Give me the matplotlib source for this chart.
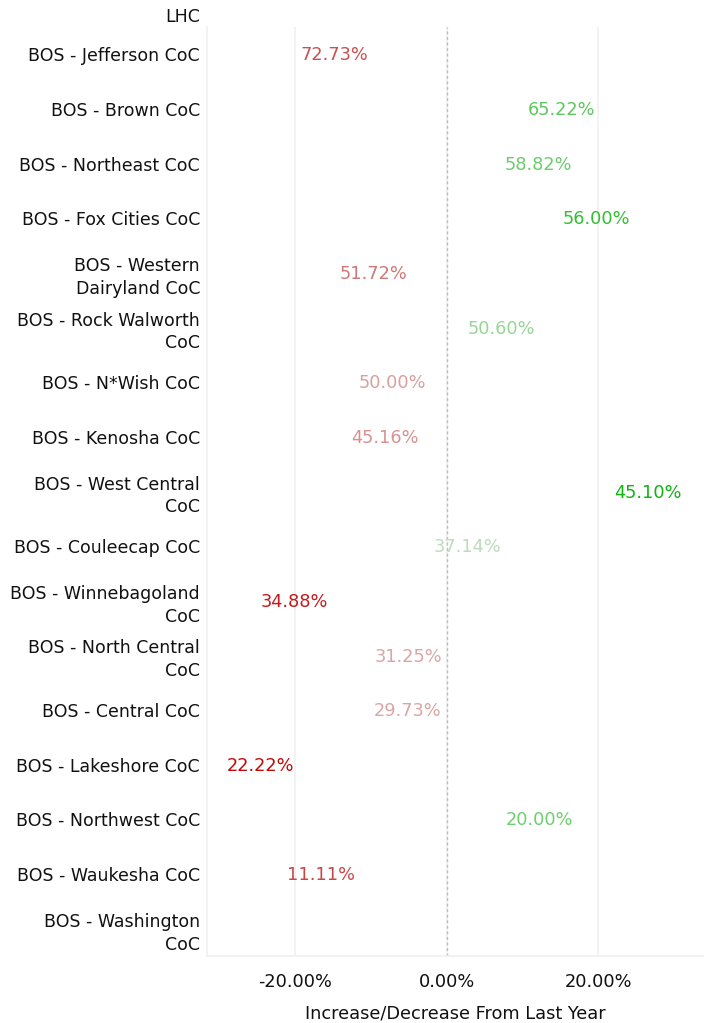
import matplotlib
matplotlib.use("Agg")
import matplotlib.pyplot as plt
from matplotlib.ticker import FuncFormatter

# Data (bottom to top)
categories = [
    "BOS - Washington\nCoC",
    "BOS - Waukesha CoC",
    "BOS - Northwest CoC",
    "BOS - Lakeshore CoC",
    "BOS - Central CoC",
    "BOS - North Central\nCoC",
    "BOS - Winnebagoland\nCoC",
    "BOS - Couleecap CoC",
    "BOS - West Central\nCoC",
    "BOS - Kenosha CoC",
    "BOS - N*Wish CoC",
    "BOS - Rock Walworth\nCoC",
    "BOS - Western\nDairyland CoC",
    "BOS - Fox Cities CoC",
    "BOS - Northeast CoC",
    "BOS - Brown CoC",
    "BOS - Jefferson CoC",
]
top_label = "LHC"
change = [None, -16.6, 12.3, -24.5, -5.1, -5.1, -20.1, 2.8, 26.5, -8.2, -7.2, 7.2, -9.7, 19.7, 12.1, 15.1, -14.8]
label_text = [None, "11.11%", "20.00%", "22.22%", "29.73%", "31.25%", "34.88%", "37.14%", "45.10%",
              "45.16%", "50.00%", "50.60%", "51.72%", "56.00%", "58.82%", "65.22%", "72.73%"]
colors = [None, "#c84646", "#6fcf6f", "#c00a0a", "#dba5a5", "#dba5a5", "#c21c1c", "#bcdcbc", "#10b410",
          "#d69292", "#d9a0a0", "#97d597", "#d07878", "#34be34", "#6ccd6c", "#5cc85c", "#c85050"]
xticks = [-20, 0, 20]

W, H = 713, 1023
fig = plt.figure(figsize=(W / 100, H / 100), dpi=100)
ax = fig.add_axes([207 / W, 67 / H, (703 - 207) / W, (956 - 27) / H])

fs = 12.8
for i, (v, t, c) in enumerate(zip(change, label_text, colors)):
    if v is None:
        continue
    ax.text(v, i - 0.02, t, color=c, ha="center", va="center", fontsize=fs)

ax.set_xlim(-31.6, 33.8)
ax.set_ylim(-0.5, len(categories) - 0.5)
ax.set_yticks(range(len(categories)))
ax.set_yticklabels(categories, fontsize=12.5, ha="right", linespacing=1.35)
ax.set_xticks(xticks)
ax.xaxis.set_major_formatter(FuncFormatter(lambda x, p: f"{x:.2f}%"))
ax.tick_params(axis="x", labelsize=fs, length=0, pad=12, colors="#111111")
ax.tick_params(axis="y", length=0, pad=5, colors="#111111")

ax.grid(axis="x", color="#f0f0f0", linewidth=1.2)
ax.set_axisbelow(True)
ax.axvline(0, color="#bbbbbb", linestyle=(0, (2, 2)), linewidth=1)

for s in ["top", "right"]:
    ax.spines[s].set_visible(False)
ax.spines["left"].set_color("#f0f0f0")
ax.spines["bottom"].set_color("#f0f0f0")
ax.spines["left"].set_linewidth(1.2)
ax.spines["bottom"].set_linewidth(1.2)

ax.set_xlabel("Increase/Decrease From Last Year", fontsize=fs, color="#111111", labelpad=10)

# Top category label outside plotting range
fig.text(200 / W, 1 - 17 / H, top_label, ha="right", va="center", fontsize=12.5, color="#111111")

fig.savefig("out.png", dpi=100, facecolor="white")
